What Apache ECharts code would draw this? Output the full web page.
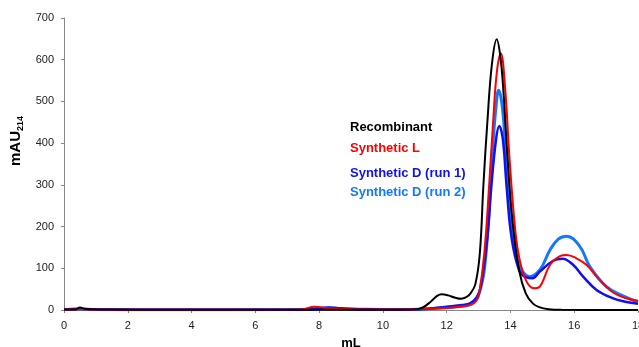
<!DOCTYPE html>
<html><head><meta charset="utf-8">
<script src="https://cdn.jsdelivr.net/npm/echarts@6/dist/echarts.min.js"></script>
<style>html,body{margin:0;padding:0;background:#fff}#c{width:639px;height:347px}</style>
</head><body><div id="c"></div>
<script>
const seriesNames = ['Recombinant', 'Synthetic L', 'Synthetic D (run 1)', 'Synthetic D (run 2)'];
const seriesColors = ['#000000', '#ff0000', '#1010f0', '#1478ff'];
const xTicks = [0, 2, 4, 6, 8, 10, 12, 14, 16, 18];
const yTicks = [0, 100, 200, 300, 400, 500, 600, 700];

const recombinant = [[0,1],[0.35,1],[0.5,6],[0.65,3],[0.9,1.5],[1.5,1],[3,0.5],[6,0.3],[9,0.3],[10.5,0.5],[11,1.5],[11.25,6],[11.5,20],[11.7,34],[11.85,38],[12.05,35],[12.25,30],[12.45,27],[12.6,30],[12.75,40],[12.9,62],[13.04,136],[13.15,296],[13.28,455],[13.42,590],[13.57,649],[13.68,610],[13.77,535],[13.9,376],[14.06,216],[14.27,96],[14.48,40],[14.7,16],[14.9,7],[15.2,2],[15.6,0.5],[18,0]];
const syntheticL = [[0,1],[0.5,2],[1,1],[3,0.5],[7,0.5],[7.5,2],[7.85,8],[8.2,5],[8.6,3],[9.5,1],[10.5,1],[11,2],[12,5],[12.5,9],[12.8,14],[12.93,22],[13.02,40],[13.18,136],[13.33,296],[13.46,455],[13.58,575],[13.7,615],[13.83,535],[13.96,376],[14.12,216],[14.25,136],[14.48,72],[14.74,52],[14.92,56],[15.24,108],[15.55,129],[15.76,132],[16.07,124],[16.39,108],[16.75,76],[17.22,42],[17.64,28],[18,22]];
const syntheticD1 = [[0,1],[0.5,3],[1,1],[3,0.5],[7.6,1],[8,4],[8.3,6],[8.7,4],[9.5,1.5],[10.5,1],[11.16,2],[12,8],[12.5,12],[12.73,16],[12.94,30],[13.07,56],[13.28,176],[13.4,296],[13.55,410],[13.65,441],[13.76,410],[13.88,296],[14.03,176],[14.27,96],[14.5,78],[14.69,76],[14.92,92],[15.34,118],[15.63,123],[15.97,108],[16.28,80],[16.7,48],[17.22,28],[17.6,20],[18,15]];
const syntheticD2 = [[0,1],[0.5,2],[1,1],[3,0.5],[7.6,1],[8,3],[8.3,5],[8.7,3],[9.5,1.5],[10.5,1],[11.16,1.5],[12,6],[12.5,9],[12.75,13],[12.9,22],[13.02,40],[13.18,96],[13.31,216],[13.43,376],[13.55,490],[13.63,527],[13.74,490],[13.86,376],[14.01,216],[14.22,120],[14.4,90],[14.59,80],[14.92,96],[15.24,144],[15.5,170],[15.76,177],[16.18,152],[16.49,104],[17.01,56],[17.53,34],[18,19]];

const allData = [recombinant, syntheticL, syntheticD1, syntheticD2];
const widths = [2, 2, 2.5, 3];
const z = [4, 3, 2, 1];
const labelY = [129, 150, 175, 194];

const chart = echarts.init(document.getElementById('c'), null, {renderer: 'canvas'});
const font = 'Liberation Sans, Arial, Helvetica, sans-serif';
chart.setOption({
  animation: false,
  grid: {left: 64, right: 1, top: 18, bottom: 37, containLabel: false, outerBoundsMode: 'none'},
  xAxis: {
    type: 'value', min: xTicks[0], max: xTicks[xTicks.length - 1], interval: 2,
    name: 'mL', nameLocation: 'middle', nameGap: 27,
    nameTextStyle: {fontFamily: font, fontSize: 13, fontWeight: 'bold', color: '#000'},
    axisLine: {show: true, lineStyle: {color: '#888', width: 1}},
    axisTick: {show: true, length: 3, lineStyle: {color: '#888'}},
    axisLabel: {fontFamily: font, fontSize: 11, color: '#222', margin: 10},
    splitLine: {show: false}
  },
  yAxis: {
    type: 'value', min: yTicks[0], max: yTicks[yTicks.length - 1], interval: 100,
    name: '{a|mAU}{b|214}', nameLocation: 'middle', nameGap: 36, nameRotate: 90,
    nameTextStyle: {
      fontFamily: font, color: '#000', padding: [0, 0, 0, 46],
      rich: {
        a: {fontFamily: font, fontSize: 15, fontWeight: 'bold', color: '#000'},
        b: {fontFamily: font, fontSize: 9, fontWeight: 'bold', color: '#000', verticalAlign: 'bottom', padding: [8, 0, 0, 0]}
      }
    },
    axisLine: {show: true, lineStyle: {color: '#888', width: 1}},
    axisTick: {show: true, length: 3, lineStyle: {color: '#888'}},
    axisLabel: {fontFamily: font, fontSize: 11, color: '#222', margin: 10},
    splitLine: {show: false}
  },
  series: allData.map((d, i) => ({
    name: seriesNames[i], type: 'line', data: d, smooth: 0.4,
    showSymbol: false, z: z[i],
    lineStyle: {color: seriesColors[i], width: widths[i]}
  })),
  graphic: seriesNames.map((n, i) => ({
    type: 'text', left: 350, top: labelY[i] - 8,
    style: {text: n, fill: seriesColors[i], font: 'bold 13px ' + font}
  }))
});
</script></body></html>
